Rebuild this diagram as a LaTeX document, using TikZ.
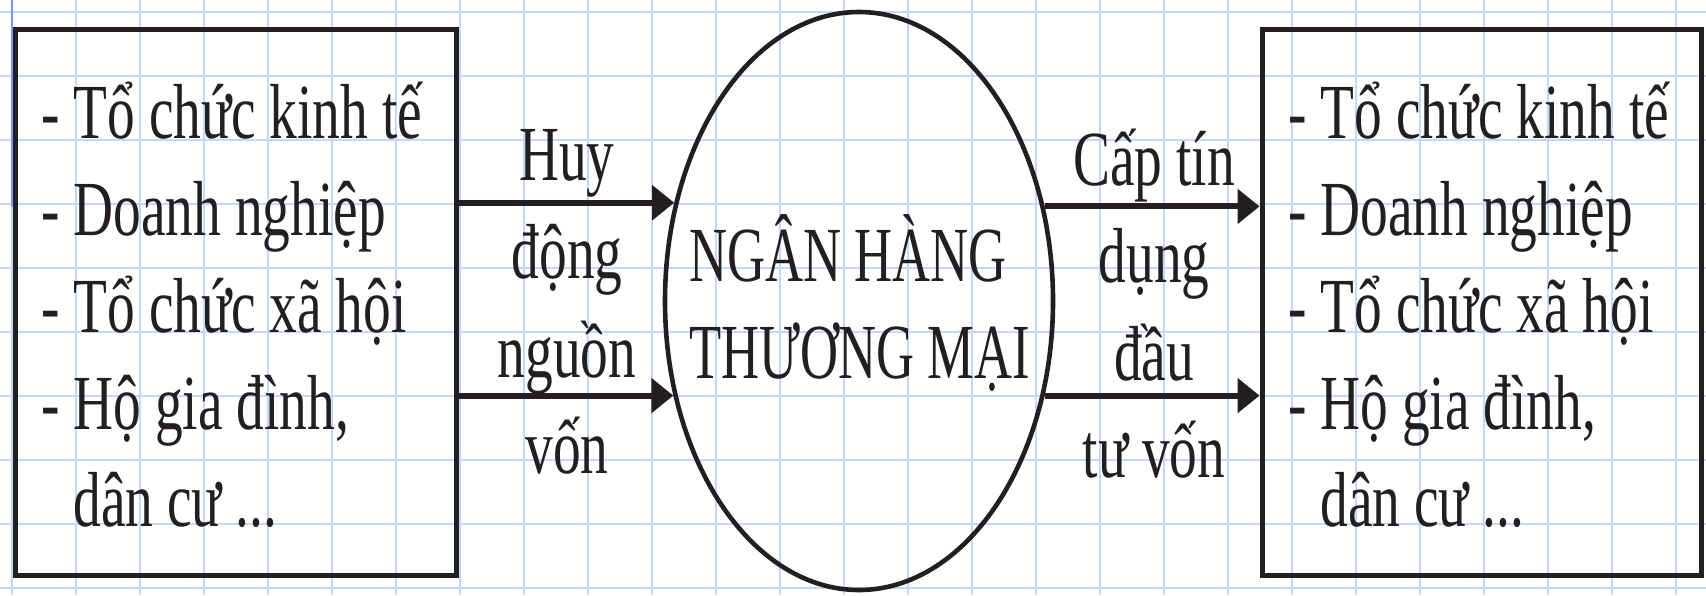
\documentclass[tikz,border=0pt]{standalone}
\usepackage{fontspec}
\setmainfont{Liberation Serif}
\usepackage{graphicx}
\usetikzlibrary{shapes.geometric,arrows.meta}
\definecolor{ink}{RGB}{35,31,32}
\definecolor{gridblue}{RGB}{200,213,255}
\definecolor{edgeblue}{RGB}{120,150,255}
\newcommand{\cmpr}[1]{\scalebox{0.71}[1]{#1}}
\newcommand{\cmprc}[1]{\scalebox{0.675}[1]{#1}}
\begin{document}
\begin{tikzpicture}[x=0.5pt,y=-0.5pt,
  gridline/.style={draw=gridblue,line width=1.1pt},
  boxnode/.style={draw=ink,line width=2.5pt,rectangle,inner sep=0pt},
  ovalnode/.style={draw=ink,line width=2.3pt,ellipse,inner sep=0pt},
  txt/.style={anchor=base west,inner sep=0pt,text=ink,font=\fontsize{39}{48}\selectfont},
  lbl/.style={anchor=base,inner sep=0pt,text=ink,font=\fontsize{39}{48}\selectfont},
  arr/.style={draw=ink,line width=3pt,-{Triangle[length=11pt,width=17pt]}}]
\useasboundingbox (0,0) rectangle (1706,595);
\fill[white] (0,0) rectangle (1706,595);
% grid
\foreach \x in {12,76,...,1700} \draw[gridline] (\x,0) -- (\x,595);
\foreach \y in {12,76,...,595} \draw[gridline] (0,\y) -- (1706,\y);
\draw[draw=edgeblue,line width=1pt] (12,0) -- (12,207);
% shapes
\node[boxnode,minimum width=220.5pt,minimum height=273pt] (L) at (235.5,302) {};
\node[boxnode,minimum width=219.5pt,minimum height=273pt] (R) at (1481.5,302) {};
\node[ovalnode,minimum width=194pt,minimum height=289pt] (E) at (859,301) {};
% left box text
\node[txt] (l1) at (41,138) {\cmpr{- Tổ chức kinh tế}};
\node[txt] (l2) at (41,235) {\cmpr{- Doanh nghiệp}};
\node[txt] (l3) at (41,332) {\cmpr{- Tổ chức xã hội}};
\node[txt] (l4) at (41,429) {\cmpr{- Hộ gia đình,}};
\node[txt] (l5) at (73,526) {\cmpr{dân cư ...}};
% right box text
\node[txt] (r1) at (1288,138) {\cmpr{- Tổ chức kinh tế}};
\node[txt] (r2) at (1288,235) {\cmpr{- Doanh nghiệp}};
\node[txt] (r3) at (1288,332) {\cmpr{- Tổ chức xã hội}};
\node[txt] (r4) at (1288,429) {\cmpr{- Hộ gia đình,}};
\node[txt] (r5) at (1320,526) {\cmpr{dân cư ...}};
% centre text
\node[txt] (c1) at (689,281) {\cmprc{NGÂN HÀNG}};
\node[txt] (c2) at (689,378) {\cmprc{THƯƠNG MẠI}};
% left labels
\node[lbl] (a1) at (567,180) {\cmpr{Huy}};
\node[lbl] (a2) at (567,278) {\cmpr{động}};
\node[lbl] (a3) at (567,377) {\cmpr{nguồn}};
\node[lbl] (a4) at (567,473) {\cmpr{vốn}};
% right labels
\node[lbl] (b1) at (1154,185) {\cmpr{Cấp tín}};
\node[lbl] (b2) at (1154,282) {\cmpr{dụng}};
\node[lbl] (b3) at (1154,380) {\cmpr{đầu}};
\node[lbl] (b4) at (1154,477) {\cmpr{tư vốn}};
% arrows
\draw[arr] (L.east |- E.152.3) -- (E.152.3);
\draw[arr] (L.east |- E.207.7) -- (E.207.7);
\draw[arr] (E.27.7) -- (R.west |- E.27.7);
\draw[arr] (E.-27.7) -- (R.west |- E.-27.7);
\end{tikzpicture}
\end{document}
